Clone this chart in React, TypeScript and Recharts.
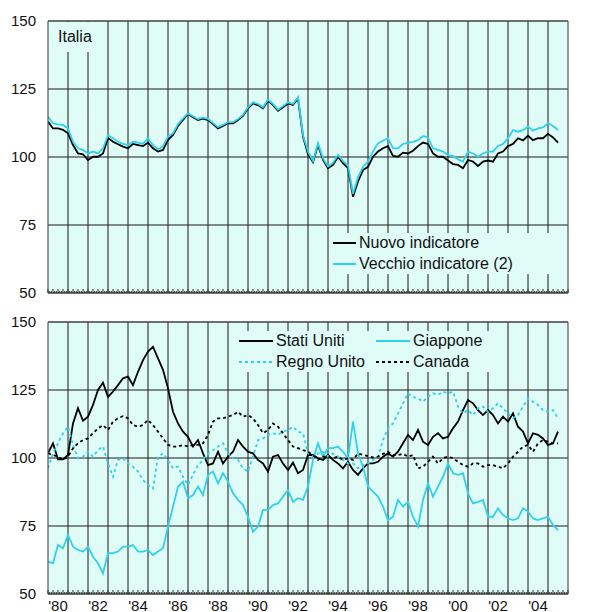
import {
  CartesianGrid,
  Legend,
  Line,
  LineChart,
  ReferenceLine,
  XAxis,
  YAxis,
} from "recharts";

// quarterly readings, 1980 Q1 .. 2005 Q3
const ITALIA_NUOVO = [
  113, 110.5, 110.5, 110, 108.7, 104.4, 101.3, 101, 98.9, 100.1, 100.1, 101.3,
  107, 105.6, 104.7, 103.8, 103.2, 104.8, 104.4, 104, 105.3, 103.2, 102, 102.6,
  106.3, 108.1, 111.4, 113.6, 115.8, 114.6, 113.6, 114.1, 113.6, 112.1, 110.5, 111.4,
  112.4, 112.4, 113.6, 115.1, 117.9, 119.7, 119.1, 117.9, 120.7, 119.1, 117, 118.3,
  119.7, 119.1, 121.5, 107.5, 101, 98.1, 104.4, 98.9, 95.9, 97.1, 100.1, 97.7,
  95.9, 85.4, 91, 95.2, 96.4, 100.1, 102, 103.2, 104, 100.4, 100.1, 101.6,
  101.3, 102.3, 104, 105.3, 104.8, 101.3, 100.1, 100.1, 98.7, 97.4, 97.1, 95.9,
  98.9, 98.3, 96.7, 98.3, 98.7, 98.3, 101.3, 102, 104, 104.8, 106.9, 106.1,
  107.8, 106.2, 106.9, 106.9, 108.5, 107.2, 105.3,
];

const ITALIA_VECCHIO = [
  114.8, 112.4, 112, 111.8, 110.5, 105.6, 103.2, 102.6, 101.3, 102, 101.3, 103.2,
  108, 106.9, 105.6, 104.8, 104.4, 105.6, 105.3, 104.8, 106.9, 104.4, 102.8, 104,
  107.5, 108.7, 112.1, 114.2, 116, 115, 114, 114.5, 114, 112.5, 111, 111.8,
  112.8, 112.8, 114, 115.5, 118.3, 120.1, 119.5, 118.3, 121.1, 119.5, 117.4, 118.7,
  120.1, 119.5, 122, 108, 102, 98.5, 105, 99.5, 96.5, 97.8, 100.8, 98.5,
  97, 86.5, 92.5, 96.4, 98.3, 102, 105, 106, 106.9, 103.2, 103.2, 104.8,
  105.3, 105.6, 106.2, 107.7, 107.2, 103.2, 102.6, 102, 100.7, 100.4, 99.1, 98.3,
  102, 101.3, 100.1, 101.3, 102, 102, 104, 104.8, 106.9, 109.9, 109.3, 109.9,
  111.2, 109.7, 110.5, 110.9, 112.4, 111.4, 109.9,
];

const STATI_UNITI = [
  101.7, 105.4, 99.5, 99.5, 101.1, 112.7, 118.3, 113.7, 115.2, 119.5, 125, 127.7,
  122.5, 124.4, 126.8, 129.3, 129.9, 126.8, 131.7, 136, 139.1, 140.9, 136.6, 132.4,
  125.6, 117, 112.7, 109.7, 107.8, 104.2, 106.6, 101.7, 97.4, 98, 102.3, 98,
  100.5, 102.3, 106.6, 104.2, 102.3, 101.7, 99.3, 98, 95, 100.5, 101.1, 98,
  95.6, 98.3, 94.4, 95.6, 101.1, 101.1, 99.9, 99.3, 101.1, 99.3, 98, 96.2,
  98.6, 95.6, 93.8, 96.2, 98, 98, 98.6, 100.5, 101.7, 100.5, 102.3, 105.4,
  108.5, 106.6, 110.3, 106, 104.8, 107.8, 109.1, 107.2, 107.8, 110.9, 113.4, 117.6,
  121.3, 120.1, 117.6, 115.8, 117.6, 115.8, 112.7, 115.2, 113.4, 116.4, 111.5, 109.7,
  105.4, 109.1, 108.5, 107.2, 104.8, 105.4, 109.7,
];

const GIAPPONE = [
  61.9, 61.3, 68, 66.8, 71.7, 67.4, 66.2, 65.6, 67.4, 63.7, 61.3, 57.6,
  65, 65, 65.6, 67.4, 67.4, 68, 65.6, 65.6, 66.2, 64.3, 65.6, 66.8,
  74.8, 82.1, 89.5, 91.3, 85.2, 86.4, 89.5, 86.4, 93.8, 95, 90.7, 94.4,
  91.3, 87, 84.6, 82.7, 78.4, 72.9, 74.8, 80.9, 80.9, 82.7, 83.3, 85.8,
  88.2, 83.9, 85.2, 84.6, 89.5, 99.3, 105.4, 100.5, 103.6, 103.6, 104.2, 102.3,
  99.9, 113.4, 101.7, 96.8, 89.5, 87.6, 85.8, 82.1, 77.2, 78.4, 84.6, 82.1,
  83.9, 78.4, 74.8, 84.6, 90.7, 85.8, 89.5, 93.1, 98, 94.4, 93.8, 94.4,
  87, 83.3, 83.9, 84.6, 78.4, 78.4, 81.5, 79, 77.8, 77.2, 77.8, 81.5,
  80.3, 77.8, 77.2, 77.8, 78.4, 75.4, 73.5,
];

const REGNO_UNITO = [
  96.2, 101.7, 105.4, 109.1, 111.5, 104.8, 99.9, 100.5, 102.3, 100.5, 102.9, 104.2,
  98, 93.1, 99.3, 99.9, 98, 96.8, 95, 91.9, 90.1, 88.8, 100.5, 101.7,
  99.3, 96.2, 96.8, 93.1, 90.1, 93.8, 97.4, 99.3, 101.7, 102.9, 104.2, 105.4,
  101.7, 99.9, 99.3, 96.2, 95, 100.5, 106.6, 107.2, 108.5, 109.1, 108.5, 109.7,
  110.3, 111.5, 109.7, 109.1, 101.7, 100.5, 101.7, 102.3, 100.5, 101.7, 100.5, 99.3,
  98, 98, 96.2, 97.4, 98, 99.3, 100.5, 106.6, 110.9, 112.7, 116.4, 120.1,
  123.8, 122.5, 121.9, 120.7, 122.5, 123.8, 123.2, 124.4, 123.8, 124.4, 118.9, 116.4,
  117.6, 115.8, 118.3, 118.9, 117, 118.3, 120.1, 118.3, 116.4, 114.6, 115.8, 118.9,
  121.9, 120.7, 119.5, 117.6, 117, 117.6, 114.6,
];

const CANADA = [
  101.7, 101.1, 100.5, 99.3, 100.5, 103.6, 105.4, 106.6, 107.2, 109.1, 110.9, 112.1,
  110.3, 113.4, 114.6, 115.4, 114.6, 112.1, 111.5, 112.1, 114, 112.1, 109.7, 107.2,
  104.8, 104.2, 104.2, 104.8, 104.2, 104.8, 104.8, 105.4, 108.5, 113.4, 114.6, 114.6,
  115.2, 115.8, 117, 115.2, 115.8, 114.6, 112.1, 109.1, 110.3, 112.7, 111.5, 109.1,
  106.6, 104.2, 103.6, 102.9, 102.3, 101.1, 99.3, 100.5, 100.5, 99.9, 100.5, 99.3,
  99.9, 99.3, 101.7, 101.1, 100.7, 100.2, 100.5, 101.5, 102.3, 101.1, 101.1, 101.5,
  100.5, 101.1, 96.2, 96.8, 98.6, 100.5, 98, 99.9, 100.5, 99.9, 98.6, 97.4,
  96.8, 98, 98, 96.8, 97.4, 97.4, 96.8, 96.2, 98, 100.5, 102.3, 104.2,
  104.8, 102.3, 105.4, 106.6, 106, 105.4, 105.4,
];

const YEAR_LABELS = [
  "'80", "'82", "'84", "'86", "'88", "'90", "'92", "'94", "'96", "'98", "'00", "'02", "'04",
];
const Y_TICKS = [50, 75, 100, 125, 150];
const LEGEND_ORDER = [
  "Nuovo indicatore",
  "Vecchio indicatore (2)",
  "Stati Uniti",
  "Giappone",
  "Regno Unito",
  "Canada",
];

const START = 1980;
const END = 2006;
const YEAR_LINES = Array.from({ length: END - START - 1 }, (_, i) => START + 1 + i);
const MONTH_TICKS = Array.from({ length: (END - START) * 12 + 1 }, (_, i) => START + i / 12);

const italia = ITALIA_NUOVO.map((v, i) => ({
  t: START + i / 4,
  nuovo: v,
  vecchio: ITALIA_VECCHIO[i],
}));

const altri = STATI_UNITI.map((v, i) => ({
  t: START + i / 4,
  usa: v,
  jap: GIAPPONE[i],
  uk: REGNO_UNITO[i],
  can: CANADA[i],
}));

const BG = "#dffcf7";
const CYAN = "#2fd2ec";
const GRID = "#1a1a1a";
const FRAME = "#555";
const FONT = "'Liberation Sans', Arial, Helvetica, sans-serif";
const W = 608;

function MonthTick(props: any) {
  const { x, y, index, withLabels } = props;
  const quarter = index % 3 === 0;
  const label = withLabels && index % 24 === 6 ? YEAR_LABELS[(index - 6) / 24] : null;
  return (
    <g>
      <line x1={x} x2={x} y1={y} y2={y - (quarter ? 4 : 2)} stroke="#333" strokeWidth={1} />
      {label && (
        <text x={x} y={y + 6} dy="0.71em" textAnchor="middle" fontSize={15} fill="#111" fontFamily={FONT}>
          {label}
        </text>
      )}
    </g>
  );
}

function LegendBox(props: any) {
  const { payload = [], columns, colWidth } = props;
  const len = columns === 2 ? 34 : 23;
  const items = [...payload].sort(
    (a: any, b: any) => LEGEND_ORDER.indexOf(a.value) - LEGEND_ORDER.indexOf(b.value),
  );
  return (
    <div
      style={{
        display: "grid",
        gridTemplateColumns: columns === 2 ? `${colWidth}px auto` : "auto",
        background: BG,
        fontFamily: FONT,
        fontSize: 16,
        color: "#111",
      }}
    >
      {items.map((e: any) => (
        <div key={e.value} style={{ display: "flex", alignItems: "center", height: 20.5 }}>
          <svg width={len} height={4} style={{ flex: "none" }}>
            <line
              x1={0}
              y1={2}
              x2={len}
              y2={2}
              stroke={e.color}
              strokeWidth={2}
              strokeDasharray={e.payload?.strokeDasharray}
            />
          </svg>
          <span style={{ marginLeft: 3, whiteSpace: "nowrap" }}>{e.value}</span>
        </div>
      ))}
    </div>
  );
}

// vertical year lines through the x scale when available, else from the plot offset
const gridGen = (args: any) => {
  const { xAxis, offset } = args;
  if (xAxis && typeof xAxis.scale === "function") {
    return YEAR_LINES.map((y) => xAxis.scale(y));
  }
  return YEAR_LINES.map((y) => offset.left + ((y - START) / (END - START)) * offset.width);
};

function axes(withLabels: boolean, height: number) {
  return [
    <XAxis
      key="x"
      dataKey="t"
      type="number"
      domain={[START, END]}
      ticks={MONTH_TICKS}
      interval={0}
      axisLine={false}
      tickLine={false}
      tickSize={0}
      tickMargin={0}
      height={height}
      tick={<MonthTick withLabels={withLabels} />}
      allowDataOverflow
    />,
    <YAxis
      key="yl"
      type="number"
      domain={[50, 150]}
      ticks={Y_TICKS}
      width={48}
      axisLine={false}
      tickLine={false}
      tickSize={0}
      tickMargin={12}
      tick={{ fontSize: 15, fill: "#111", fontFamily: FONT }}
      interval={0}
    />,
    <YAxis
      key="yr"
      yAxisId="r"
      orientation="right"
      type="number"
      domain={[50, 150]}
      ticks={Y_TICKS}
      width={40}
      axisLine={false}
      tickLine={false}
      tickSize={0}
      tickMargin={14}
      tick={{ fontSize: 15, fill: "#111", fontFamily: FONT, textAnchor: "start" }}
      interval={0}
    />,
  ];
}

function frameLines() {
  return [
    <ReferenceLine key="f1" x={START} stroke={FRAME} strokeWidth={1.2} />,
    <ReferenceLine key="f2" x={END} stroke={FRAME} strokeWidth={1.2} />,
    <ReferenceLine key="f3" y={50} stroke={FRAME} strokeWidth={1.2} />,
    <ReferenceLine key="f4" y={150} stroke={FRAME} strokeWidth={1.2} />,
  ];
}

export default function App() {
  return (
    <div
      style={{
        position: "absolute",
        left: 0,
        top: 0,
        width: W,
        height: 612,
        background: "#fff",
        overflow: "hidden",
        fontFamily: FONT,
      }}
    >
      <div style={{ position: "absolute", left: 0, top: 0 }}>
        <LineChart width={W} height={300} data={italia} margin={{ top: 21, right: 0, bottom: 0, left: 0 }}>
          <CartesianGrid fill={BG} stroke={GRID} strokeOpacity={1} verticalCoordinatesGenerator={gridGen} />
          {axes(false, 7)}
          <Line dataKey="nuovo" name="Nuovo indicatore" stroke="#000" strokeWidth={1.8} dot={false} isAnimationActive={false} />
          <Line dataKey="vecchio" name="Vecchio indicatore (2)" stroke={CYAN} strokeWidth={1.8} dot={false} isAnimationActive={false} />
          {frameLines()}
          <Legend
            layout="horizontal"
            verticalAlign="middle"
            align="center"
            wrapperStyle={{ left: 333, top: 233, width: 222 }}
            content={<LegendBox columns={1} />}
          />
        </LineChart>
        <div
          style={{
            position: "absolute",
            left: 49,
            top: 22,
            width: 52,
            height: 30,
            background: BG,
            fontSize: 16,
            color: "#111",
            lineHeight: "30px",
            paddingLeft: 9,
            boxSizing: "border-box",
          }}
        >
          Italia
        </div>
      </div>
      <div style={{ position: "absolute", left: 0, top: 300 }}>
        <LineChart width={W} height={312} data={altri} margin={{ top: 22, right: 0, bottom: 0, left: 0 }}>
          <CartesianGrid fill={BG} stroke={GRID} strokeOpacity={1} verticalCoordinatesGenerator={gridGen} />
          {axes(true, 18)}
          <Line dataKey="usa" name="Stati Uniti" stroke="#000" strokeWidth={1.8} dot={false} isAnimationActive={false} />
          <Line dataKey="jap" name="Giappone" stroke={CYAN} strokeWidth={1.8} dot={false} isAnimationActive={false} />
          <Line dataKey="uk" name="Regno Unito" stroke={CYAN} strokeWidth={1.8} strokeDasharray="3 3" dot={false} isAnimationActive={false} />
          <Line dataKey="can" name="Canada" stroke="#000" strokeWidth={1.8} strokeDasharray="3 3" dot={false} isAnimationActive={false} />
          {frameLines()}
          <Legend
            layout="horizontal"
            verticalAlign="middle"
            align="center"
            wrapperStyle={{ left: 230, top: 31, width: 277, paddingLeft: 9, boxSizing: "border-box", background: BG }}
            content={<LegendBox columns={2} colWidth={137} />}
          />
        </LineChart>
      </div>
    </div>
  );
}
